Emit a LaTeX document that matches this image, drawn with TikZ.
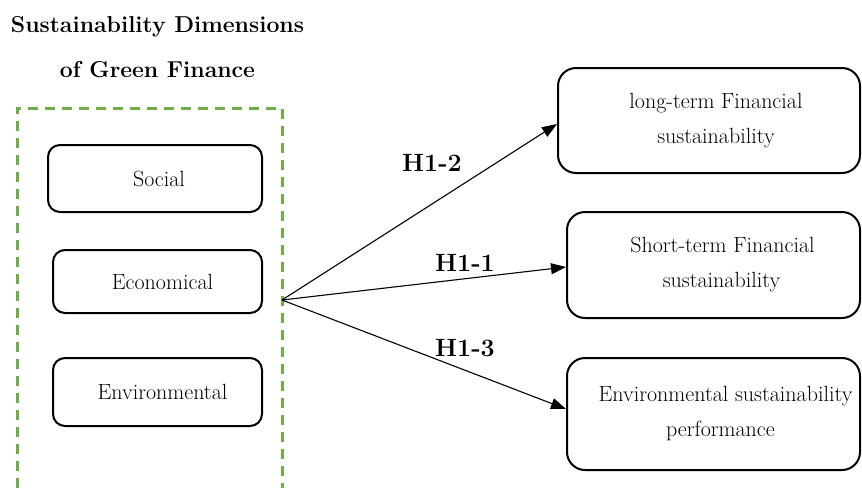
\documentclass[tikz,border=0pt]{standalone}
\usepackage{fontspec}
\usetikzlibrary{arrows.meta}
\definecolor{dgreen}{HTML}{70AD47}
\begin{document}
\begin{tikzpicture}[x=1pt,y=-1pt,
  lbox/.style={draw,line width=2pt,rounded corners=12pt,inner sep=0pt,font=\fontsize{22}{26}\selectfont},
  rbox/.style={draw,line width=2pt,rounded corners=18pt,inner sep=0pt,align=center,font=\fontsize{22}{35}\selectfont},
  hlab/.style={font=\fontsize{25}{29}\selectfont\bfseries,inner sep=0pt},
  conn/.style={line width=1.1pt,-{Triangle[length=15pt,width=11pt]}}]
\useasboundingbox (0,0) rectangle (862,488);
\node[font=\fontsize{23}{45}\selectfont\bfseries,align=center,inner sep=0pt] (title) at (157.5,47.5) {Sustainability Dimensions\\of Green Finance};
\coordinate (g1) at (17,488);
\coordinate (g2) at (17,108);
\coordinate (g3) at (282,108);
\coordinate (g4) at (282,488);
\draw[dgreen,line width=3pt,dash pattern=on 10pt off 7pt] (g1) -- (g2) -- (g3) -- (g4);
\node[lbox,minimum width=214pt,minimum height=67pt] (soc) at (155,178.5) {\hspace{8pt}Social};
\node[lbox,minimum width=209pt,minimum height=63pt] (eco) at (157.5,281.5) {\hspace{10pt}Economical};
\node[lbox,minimum width=209pt,minimum height=68pt] (env) at (157.5,392) {\hspace{10pt}Environmental};
\node[rbox,minimum width=302pt,minimum height=105pt] (lt) at (709,120.5) {\hspace{14pt}long-term Financial\\\hspace{14pt}sustainability};
\node[rbox,minimum width=293pt,minimum height=106pt] (st) at (713.5,265) {\hspace{18pt}Short-term Financial\\\hspace{16pt}sustainability};
\node[rbox,minimum width=293pt,minimum height=112pt] (ep) at (713.5,414) {\hspace{24pt}Environmental sustainability\\\hspace{14pt}performance};
\coordinate (src) at (282,300);
\draw[conn] (src) -- (lt.west |- 0,124);
\draw[conn] (src) -- (st.west |- 0,267);
\draw[conn] (src) -- (ep.west |- 0,409);
\node[hlab] (h12) at (432,163) {H1-2};
\node[hlab] (h11) at (465,263) {H1-1};
\node[hlab] (h13) at (465,348) {H1-3};
\end{tikzpicture}
\end{document}
